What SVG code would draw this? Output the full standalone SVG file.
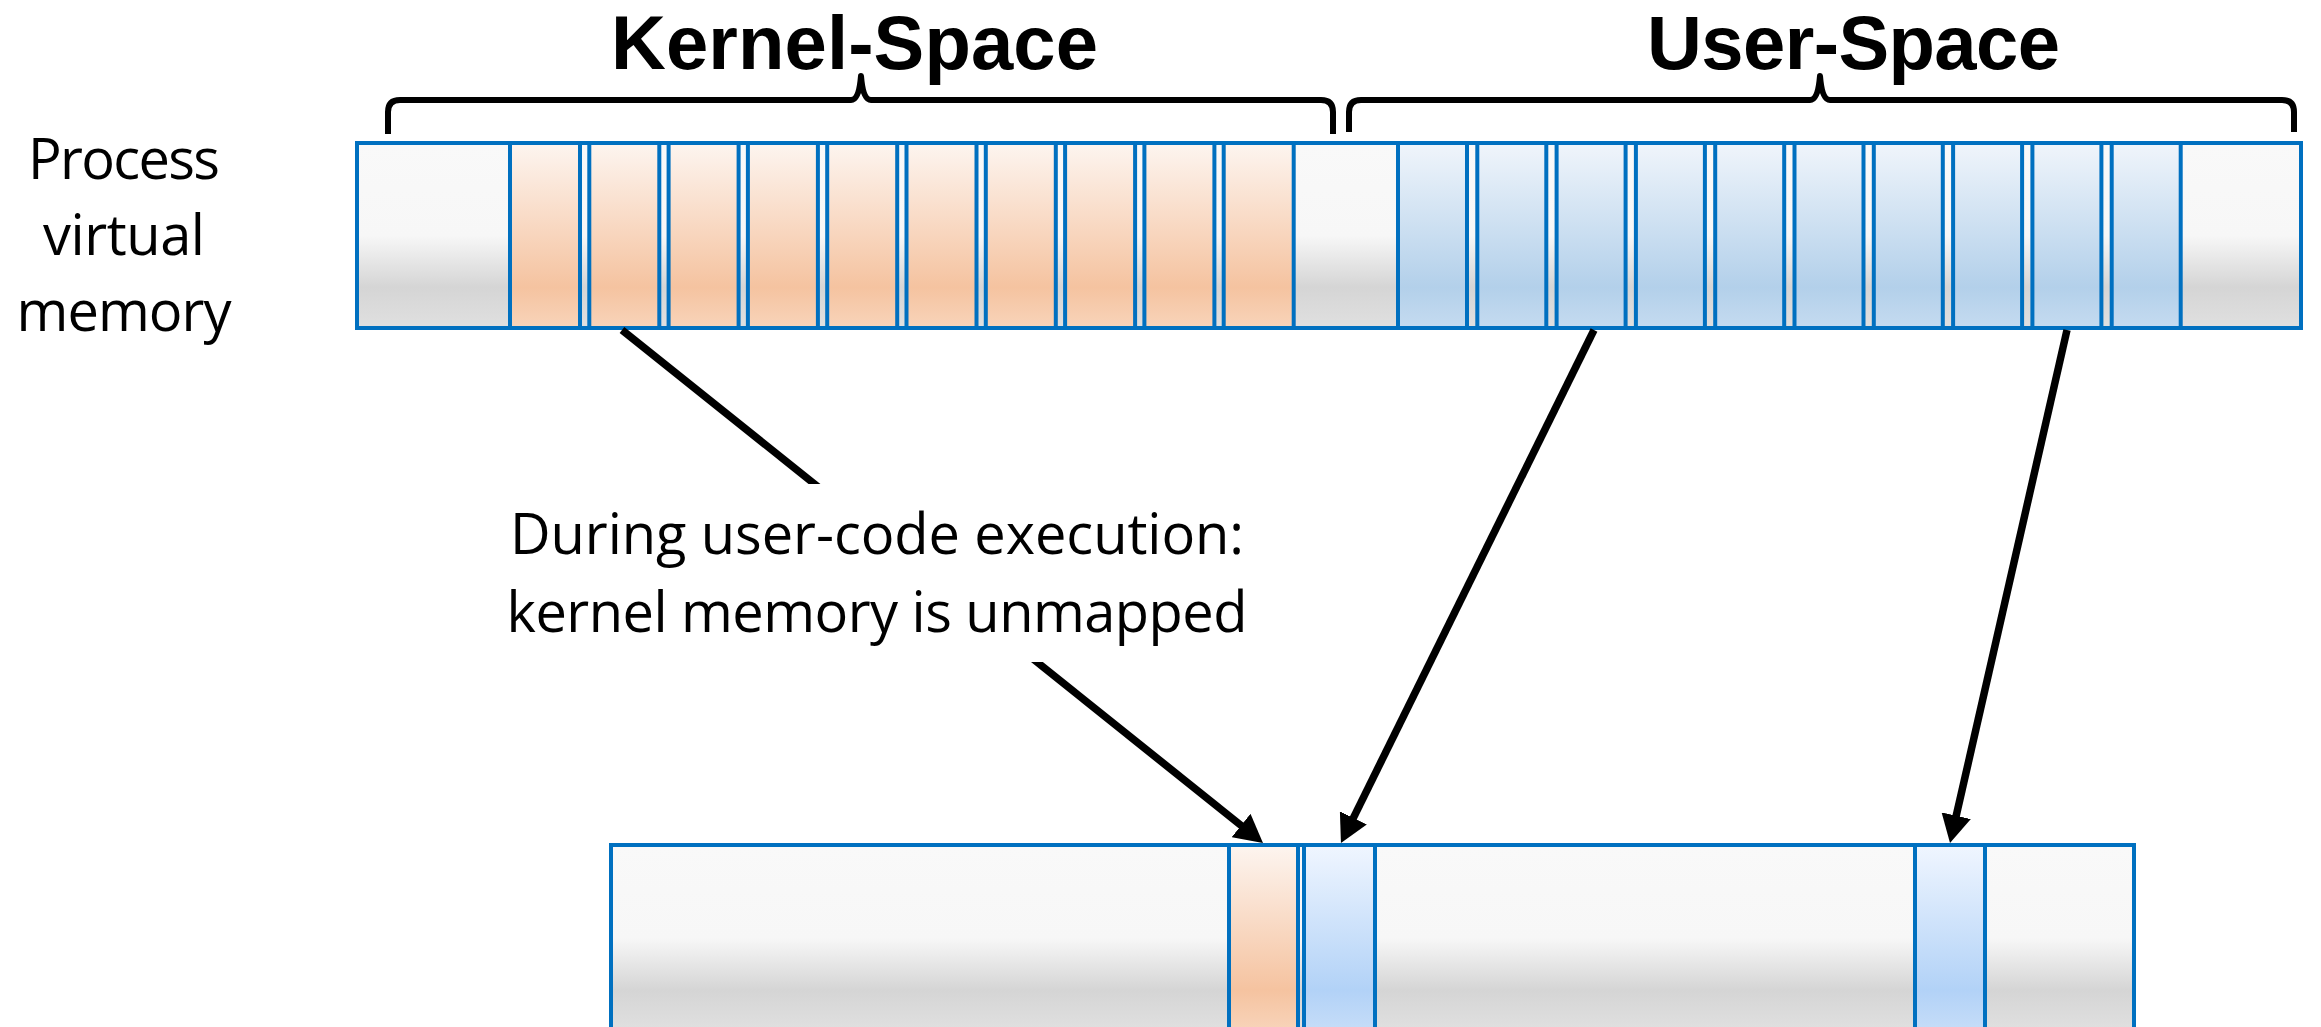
<svg xmlns="http://www.w3.org/2000/svg" width="2321" height="1027" viewBox="0 0 2321 1027">
  <defs>
    <linearGradient id="gGray" x1="0" y1="0" x2="0" y2="1">
      <stop offset="0" stop-color="#f9f9f9"/>
      <stop offset="0.5" stop-color="#f7f7f7"/>
      <stop offset="0.78" stop-color="#d5d5d5"/>
      <stop offset="1" stop-color="#e0e0e0"/>
    </linearGradient>
    <linearGradient id="gOrange" x1="0" y1="0" x2="0" y2="1">
      <stop offset="0" stop-color="#fdf5f0"/>
      <stop offset="0.78" stop-color="#f5c3a0"/>
      <stop offset="1" stop-color="#f8d4ba"/>
    </linearGradient>
    <linearGradient id="gBlue" x1="0" y1="0" x2="0" y2="1">
      <stop offset="0" stop-color="#f0f5fb"/>
      <stop offset="0.78" stop-color="#b3d0ea"/>
      <stop offset="1" stop-color="#c5dbf0"/>
    </linearGradient>
    <linearGradient id="gBlue2" x1="0" y1="0" x2="0" y2="1">
      <stop offset="0" stop-color="#f0f6ff"/>
      <stop offset="0.78" stop-color="#b2d2f7"/>
      <stop offset="1" stop-color="#c6ddf8"/>
    </linearGradient>
    <marker id="head" markerUnits="userSpaceOnUse" markerWidth="28" markerHeight="30" viewBox="0 0 28 30" refX="1" refY="15" orient="auto">
      <path d="M0,0 L28,15 L0,30 Z" fill="#000"/>
    </marker>
  </defs>
  <style>
    .bar { fill: url(#gGray); stroke: #0070c0; stroke-width: 4; }
    .k { fill: url(#gOrange); stroke: #0070c0; stroke-width: 4; }
    .u { fill: url(#gBlue); stroke: #0070c0; stroke-width: 4; }
    .u2 { fill: url(#gBlue2); stroke: #0070c0; stroke-width: 4; }
    .brace { fill: none; stroke: #000; stroke-width: 6; stroke-linejoin: round; }
    .title { font-family: "Liberation Sans", Arial, sans-serif; font-weight: bold; font-size: 76px; fill: #000; }
    .lbl { font-family: "Open Sans", "Liberation Sans", sans-serif; font-size: 56px; fill: #000; text-anchor: middle; }
    .arrow { stroke: #000; stroke-width: 7.5; fill: none; marker-end: url(#head); }
  </style>
  <rect width="2321" height="1027" fill="#ffffff"/>

  <!-- titles and braces -->
  <g id="kernel-space-label">
    <text class="title" x="611" y="69" textLength="487" lengthAdjust="spacing">Kernel-Space</text>
    <path class="brace" d="M388,134 L388,112 Q388,100 400,100 L851,100 Q859,100 861,76 Q863,100 871,100 L1321,100 Q1333,100 1333,112 L1333,134"/>
  </g>
  <g id="user-space-label">
    <text class="title" x="1647" y="69" textLength="413" lengthAdjust="spacing">User-Space</text>
    <path class="brace" d="M1349,132 L1349,112 Q1349,100 1361,100 L1810,100 Q1818,100 1820,76 Q1822,100 1830,100 L2282,100 Q2294,100 2294,112 L2294,132"/>
  </g>

  <g id="process-label">
    <text class="lbl" x="124" y="179" textLength="192" lengthAdjust="spacing">Process</text>
    <text class="lbl" x="124" y="255" textLength="162" lengthAdjust="spacing">virtual</text>
    <text class="lbl" x="124" y="331" textLength="215" lengthAdjust="spacing">memory</text>
  </g>

  <!-- process virtual memory: kernel pages then user pages -->
  <g id="virtual-memory">
    <rect class="bar" x="357" y="143" width="1944" height="185"/>
    <rect class="k" x="510" y="143" width="70" height="185"/>
    <rect class="k" x="589.3" y="143" width="70" height="185"/>
    <rect class="k" x="668.6" y="143" width="70" height="185"/>
    <rect class="k" x="747.9" y="143" width="70" height="185"/>
    <rect class="k" x="827.2" y="143" width="70" height="185"/>
    <rect class="k" x="906.5" y="143" width="70" height="185"/>
    <rect class="k" x="985.8" y="143" width="70" height="185"/>
    <rect class="k" x="1065.1" y="143" width="70" height="185"/>
    <rect class="k" x="1144.4" y="143" width="70" height="185"/>
    <rect class="k" x="1223.7" y="143" width="70" height="185"/>
    <rect class="u" x="1398" y="143" width="69" height="185"/>
    <rect class="u" x="1477.3" y="143" width="69" height="185"/>
    <rect class="u" x="1556.6" y="143" width="69" height="185"/>
    <rect class="u" x="1635.9" y="143" width="69" height="185"/>
    <rect class="u" x="1715.2" y="143" width="69" height="185"/>
    <rect class="u" x="1794.5" y="143" width="69" height="185"/>
    <rect class="u" x="1873.8" y="143" width="69" height="185"/>
    <rect class="u" x="1953.1" y="143" width="69" height="185"/>
    <rect class="u" x="2032.4" y="143" width="69" height="185"/>
    <rect class="u" x="2111.7" y="143" width="69" height="185"/>
  </g>

  <!-- physical memory -->
  <g id="physical-memory">
    <rect class="bar" x="611" y="845" width="1523" height="186"/>
    <rect class="k" x="1229" y="845" width="69" height="186"/>
    <rect class="u2" x="1304" y="845" width="71" height="186"/>
    <rect class="u2" x="1915" y="845" width="70" height="186"/>
  </g>

  <g id="connectors">
    <line class="arrow" x1="622" y1="330" x2="1241.9" y2="826.1"/>
    <line class="arrow" x1="1594" y1="330" x2="1352.9" y2="818.8"/>
    <line class="arrow" x1="2067" y1="330" x2="1956" y2="816.7"/>
  </g>

  <g id="unmapped-note">
    <rect x="495" y="484" width="765" height="178" fill="#ffffff"/>
    <text class="lbl" x="877" y="554" font-size="58" textLength="734" lengthAdjust="spacing">During user-code execution:</text>
    <text class="lbl" x="877" y="632" font-size="58" textLength="741" lengthAdjust="spacing">kernel memory is unmapped</text>
  </g>
</svg>
